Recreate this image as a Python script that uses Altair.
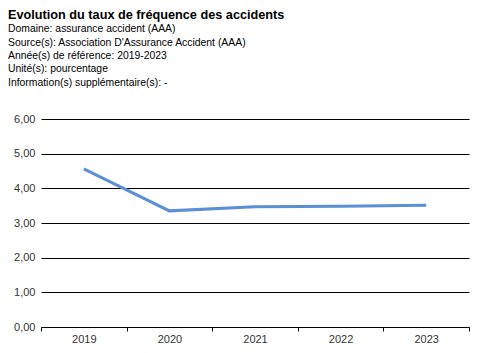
import altair as alt
import pandas as pd

years = [2019, 2020, 2021, 2022, 2023]
values = [4.56, 3.35, 3.47, 3.48, 3.51]
boundaries = [2018.5, 2019.5, 2020.5, 2021.5, 2022.5, 2023.5]

df = pd.DataFrame({"annee": years, "taux": values})

FONT = "Liberation Sans"

xscale = alt.Scale(domain=[2018.5, 2023.5], nice=False, zero=False)
yscale = alt.Scale(domain=[0, 6], nice=False)

yaxis = alt.Axis(values=[0, 1, 2, 3, 4, 5, 6], title=None, ticks=False,
                 domain=False, grid=True, gridColor="#000", gridWidth=1,
                 gridOpacity=1, labelFont=FONT, labelFontSize=11,
                 labelColor="#333", labelPadding=6, labelOverlap=False,
                 labelExpr="replace(format(datum.value, '.2f'), '.', ',')")

ticks = alt.Chart(df).mark_point(opacity=0).encode(
    x=alt.X("annee:Q", scale=xscale,
            axis=alt.Axis(values=boundaries, labels=False, title=None, ticks=True,
                          tickSize=4, tickColor="#000", tickWidth=1, domain=False,
                          grid=False, orient="bottom")),
    y=alt.Y("taux:Q", scale=yscale, axis=yaxis),
)

line = alt.Chart(df).mark_line(color="#5b8fd6", strokeWidth=3).encode(
    x=alt.X("annee:Q", scale=xscale,
            axis=alt.Axis(values=years, title=None, ticks=False, grid=False,
                          domain=True, domainColor="#000", domainWidth=1,
                          labelFont=FONT, labelFontSize=11, labelColor="#333",
                          labelPadding=6, format="d", orient="bottom")),
    y=alt.Y("taux:Q", scale=yscale, axis=yaxis),
)

chart = alt.layer(ticks, line).resolve_axis(x="independent").properties(
    width=428,
    height=208,
    padding={"left": 41, "top": 119, "right": 11, "bottom": 25},
    autosize=alt.AutoSizeParams(type="none"),
    title=alt.TitleParams(
        text="Evolution du taux de fréquence des accidents",
        subtitle=[
            "Domaine: assurance accident (AAA)",
            "Source(s): Association D'Assurance Accident (AAA)",
            "Année(s) de référence: 2019-2023",
            "Unité(s): pourcentage",
            "Information(s) supplémentaire(s): -",
        ],
        anchor="start",
        frame="group",
        dx=-33,
        offset=25,
        font=FONT,
        fontSize=12.7,
        fontWeight="bold",
        color="#000",
        subtitleFont=FONT,
        subtitleFontSize=10.4,
        subtitleColor="#000",
        subtitleLineHeight=13.3,
        subtitlePadding=3,
    ),
).configure_view(stroke=None)

chart.save("out.html", embed_options={"renderer": "svg", "actions": False})
